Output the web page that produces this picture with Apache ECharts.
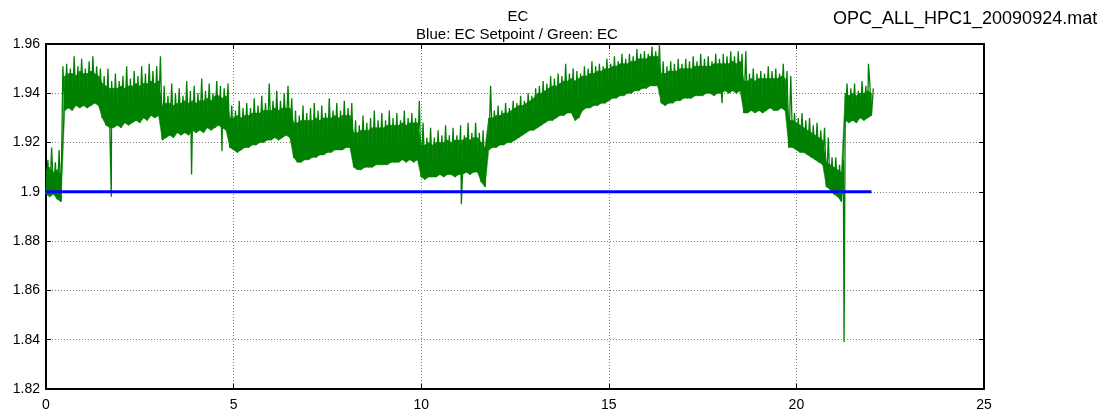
<!DOCTYPE html>
<html>
<head>
<meta charset="utf-8">
<title>EC</title>
<script src="https://cdn.jsdelivr.net/npm/echarts@6/dist/echarts.min.js"></script>
<style>
  html, body { margin: 0; padding: 0; background: #fff; }
  #chart { width: 1112px; height: 420px; }
</style>
</head>
<body>
<div id="chart"></div>
<script>
// x ticks / y ticks
var xTicks = [0, 5, 10, 15, 20, 25];
var yTicks = [1.82, 1.84, 1.86, 1.88, 1.9, 1.92, 1.94, 1.96];

// setpoint (blue)
var setpointTimes = [0, 22];
var setpointValues = [1.9, 1.9];

// measured EC (green), read every 0.1 from t=0 to t=22
var sampleStep = 0.1;
// lower edge of the noise band
var ecLow = [
  1.899, 1.898, 1.899, 1.897, 1.896, 1.933, 1.934, 1.933, 1.935, 1.934,
  1.935, 1.934, 1.935, 1.936, 1.935, 1.930, 1.927, 1.926, 1.926, 1.927,
  1.926, 1.928, 1.927, 1.928, 1.929, 1.928, 1.930, 1.929, 1.931, 1.930,
  1.931, 1.921, 1.922, 1.923, 1.922, 1.924, 1.923, 1.924, 1.923, 1.925,
  1.924, 1.925, 1.924, 1.926, 1.925, 1.926, 1.927, 1.926, 1.925, 1.918,
  1.917, 1.916, 1.917, 1.918, 1.918, 1.919, 1.919, 1.920, 1.920, 1.921,
  1.921, 1.922, 1.921, 1.922, 1.923, 1.922, 1.914, 1.912, 1.912, 1.913,
  1.913, 1.914, 1.914, 1.915, 1.915, 1.916, 1.916, 1.917, 1.917, 1.917,
  1.918, 1.918, 1.910, 1.909, 1.909, 1.910, 1.910, 1.910, 1.911, 1.911,
  1.911, 1.911, 1.912, 1.912, 1.912, 1.913, 1.912, 1.913, 1.912, 1.913,
  1.906, 1.905, 1.906, 1.906, 1.906, 1.907, 1.906, 1.907, 1.907, 1.906,
  1.907, 1.907, 1.908, 1.907, 1.908, 1.908, 1.904, 1.902, 1.917, 1.918,
  1.918, 1.919, 1.919, 1.920, 1.920, 1.921, 1.922, 1.923, 1.924, 1.925,
  1.925, 1.926, 1.927, 1.928, 1.929, 1.929, 1.930, 1.931, 1.931, 1.932,
  1.932, 1.929, 1.930, 1.933, 1.934, 1.934, 1.935, 1.935, 1.936, 1.936,
  1.937, 1.938, 1.938, 1.939, 1.939, 1.940, 1.940, 1.941, 1.941, 1.942,
  1.942, 1.943, 1.943, 1.943, 1.936, 1.935, 1.936, 1.936, 1.937, 1.937,
  1.938, 1.938, 1.938, 1.939, 1.939, 1.939, 1.940, 1.940, 1.939, 1.940,
  1.940, 1.941, 1.940, 1.941, 1.940, 1.941, 1.932, 1.932, 1.933, 1.932,
  1.933, 1.932, 1.933, 1.934, 1.933, 1.933, 1.934, 1.933, 1.918, 1.918,
  1.917, 1.916, 1.916, 1.915, 1.914, 1.913, 1.912, 1.911, 1.902, 1.901,
  1.899, 1.898, 1.896, 1.929, 1.928, 1.929, 1.928, 1.930, 1.929, 1.930,
  1.931
];
// top of the dense core of the band
var ecCore = [
  1.909, 1.910, 1.908, 1.909, 1.907, 1.947, 1.948, 1.948, 1.947, 1.949,
  1.948, 1.948, 1.949, 1.948, 1.947, 1.944, 1.943, 1.942, 1.942, 1.942,
  1.943, 1.942, 1.943, 1.943, 1.944, 1.943, 1.944, 1.944, 1.945, 1.944,
  1.945, 1.935, 1.936, 1.936, 1.935, 1.936, 1.936, 1.937, 1.936, 1.937,
  1.936, 1.937, 1.937, 1.938, 1.937, 1.939, 1.939, 1.938, 1.939, 1.930,
  1.930, 1.931, 1.930, 1.931, 1.931, 1.932, 1.932, 1.932, 1.933, 1.933,
  1.933, 1.934, 1.933, 1.934, 1.934, 1.934, 1.928, 1.928, 1.929, 1.929,
  1.929, 1.929, 1.930, 1.929, 1.930, 1.930, 1.930, 1.931, 1.930, 1.931,
  1.931, 1.931, 1.924, 1.924, 1.925, 1.925, 1.925, 1.926, 1.926, 1.926,
  1.926, 1.927, 1.927, 1.927, 1.927, 1.928, 1.927, 1.928, 1.928, 1.928,
  1.919, 1.919, 1.920, 1.919, 1.920, 1.920, 1.920, 1.921, 1.920, 1.921,
  1.921, 1.921, 1.922, 1.921, 1.922, 1.922, 1.920, 1.918, 1.930, 1.930,
  1.931, 1.931, 1.932, 1.932, 1.933, 1.934, 1.935, 1.935, 1.936, 1.937,
  1.938, 1.940, 1.940, 1.941, 1.942, 1.943, 1.943, 1.944, 1.945, 1.945,
  1.946, 1.945, 1.946, 1.947, 1.947, 1.948, 1.948, 1.949, 1.949, 1.950,
  1.950, 1.951, 1.951, 1.952, 1.952, 1.952, 1.953, 1.953, 1.954, 1.954,
  1.954, 1.955, 1.955, 1.955, 1.948, 1.948, 1.949, 1.949, 1.949, 1.950,
  1.950, 1.950, 1.950, 1.951, 1.951, 1.951, 1.951, 1.951, 1.952, 1.952,
  1.952, 1.952, 1.952, 1.953, 1.952, 1.953, 1.945, 1.945, 1.946, 1.945,
  1.946, 1.946, 1.946, 1.946, 1.946, 1.946, 1.947, 1.946, 1.929, 1.929,
  1.928, 1.927, 1.926, 1.925, 1.924, 1.923, 1.922, 1.921, 1.912, 1.911,
  1.910, 1.909, 1.908, 1.940, 1.939, 1.940, 1.939, 1.940, 1.940, 1.941,
  1.940
];
// noise peaks above the core
var ecHigh = [
  1.913, 1.918, 1.912, 1.917, 1.951, 1.952, 1.950, 1.955, 1.951, 1.954,
  1.950, 1.953, 1.955, 1.951, 1.950, 1.947, 1.950, 1.945, 1.948, 1.945,
  1.947, 1.951, 1.946, 1.949, 1.947, 1.951, 1.948, 1.952, 1.949, 1.951,
  1.955, 1.943, 1.939, 1.944, 1.940, 1.942, 1.939, 1.945, 1.941, 1.943,
  1.940, 1.946, 1.941, 1.944, 1.940, 1.945, 1.943, 1.942, 1.944, 1.935,
  1.933, 1.937, 1.934, 1.936, 1.934, 1.938, 1.935, 1.939, 1.936, 1.944,
  1.937, 1.941, 1.937, 1.940, 1.943, 1.938, 1.933, 1.931, 1.935, 1.932,
  1.934, 1.936, 1.933, 1.935, 1.932, 1.938, 1.933, 1.936, 1.933, 1.937,
  1.934, 1.936, 1.929, 1.927, 1.931, 1.928, 1.930, 1.933, 1.929, 1.932,
  1.929, 1.933, 1.930, 1.932, 1.929, 1.933, 1.930, 1.932, 1.930, 1.937,
  1.928, 1.922, 1.926, 1.922, 1.925, 1.923, 1.927, 1.923, 1.926, 1.923,
  1.927, 1.923, 1.928, 1.924, 1.928, 1.924, 1.925, 1.921, 1.943, 1.933,
  1.935, 1.933, 1.936, 1.934, 1.937, 1.936, 1.939, 1.937, 1.940, 1.939,
  1.942, 1.943, 1.945, 1.944, 1.947, 1.946, 1.948, 1.947, 1.952, 1.948,
  1.950, 1.949, 1.948, 1.951, 1.950, 1.953, 1.951, 1.952, 1.951, 1.954,
  1.952, 1.955, 1.953, 1.956, 1.954, 1.956, 1.955, 1.958, 1.956, 1.957,
  1.956, 1.959, 1.957, 1.960, 1.953, 1.951, 1.953, 1.952, 1.954, 1.952,
  1.954, 1.953, 1.955, 1.953, 1.956, 1.954, 1.955, 1.953, 1.956, 1.954,
  1.956, 1.955, 1.957, 1.955, 1.957, 1.956, 1.957, 1.948, 1.950, 1.948,
  1.949, 1.948, 1.951, 1.949, 1.950, 1.948, 1.952, 1.949, 1.947, 1.932,
  1.930, 1.932, 1.929, 1.930, 1.927, 1.928, 1.925, 1.926, 1.922, 1.914,
  1.914, 1.911, 1.913, 1.944, 1.942, 1.944, 1.941, 1.945, 1.943, 1.946,
  1.942
];
// isolated spikes
var spikeTimes = [1.74, 3.88, 4.69, 11.07, 18.02, 21.27, 21.92];
var spikeValues = [1.898, 1.907, 1.9165, 1.895, 1.936, 1.839, 1.952];

var chart = echarts.init(document.getElementById('chart'));

// zigzag trace low -> peak, plus the spikes
var ecPoints = [];
var bandData = [];
for (var i = 0; i < ecLow.length; i++) {
  var t = +(i * sampleStep).toFixed(2);
  ecPoints.push([t, ecLow[i]]);
  ecPoints.push([+(t + sampleStep / 2).toFixed(3), ecHigh[i]]);
  bandData.push([t, ecLow[i], ecCore[i]]);
}
for (var j = 0; j < spikeTimes.length; j++) {
  ecPoints.push([spikeTimes[j], spikeValues[j]]);
}
ecPoints.sort(function (a, b) { return a[0] - b[0]; });

var setpointPoints = [];
for (var s = 0; s < setpointTimes.length; s++) {
  setpointPoints.push([setpointTimes[s], setpointValues[s]]);
}

var green = '#008000';

// dense core of the band: one quad from each sample to the next
function renderBand(params, api) {
  var idx = params.dataIndex;
  if (idx >= bandData.length - 1) return null;
  var a = bandData[idx];
  var b = bandData[idx + 1];
  var pts = [
    api.coord([a[0], a[1]]),
    api.coord([b[0], b[1]]),
    api.coord([b[0], b[2]]),
    api.coord([a[0], a[2]])
  ];
  return {
    type: 'polygon',
    shape: { points: pts },
    style: { fill: green, stroke: green, lineWidth: 0.5 }
  };
}

var font = 'Liberation Sans, Arial, sans-serif';
var gridLine = { show: true, lineStyle: { color: '#808080', type: [1, 2], width: 1 } };
var boxLine = { show: true, onZero: false, lineStyle: { color: '#000', width: 2 } };
var tickIn = { show: true, inside: true, length: 5, lineStyle: { color: '#000', width: 1 } };

var option = {
  animation: false,
  backgroundColor: '#fff',
  title: [
    { text: 'EC', left: 513, top: 4, textAlign: 'center',
      textStyle: { fontFamily: font, fontSize: 15, fontWeight: 'normal', color: '#000' } },
    { text: 'Blue: EC Setpoint / Green: EC', left: 512, top: 22, textAlign: 'center',
      textStyle: { fontFamily: font, fontSize: 15, fontWeight: 'normal', color: '#000' } },
    { text: 'OPC_ALL_HPC1_20090924.mat', left: 828, top: 5,
      textStyle: { fontFamily: font, fontSize: 18, fontWeight: 'normal', color: '#000' } }
  ],
  grid: { left: 46, right: 128, top: 44, bottom: 31, containLabel: false },
  xAxis: [
    {
      type: 'value', min: xTicks[0], max: xTicks[xTicks.length - 1], interval: 5,
      axisLine: boxLine, axisTick: tickIn, splitLine: gridLine,
      axisLabel: { margin: 9, fontFamily: font, fontSize: 14, color: '#000' }
    },
    {
      type: 'value', position: 'top', min: xTicks[0], max: xTicks[xTicks.length - 1], interval: 5,
      axisLine: boxLine, axisTick: tickIn, splitLine: { show: false }, axisLabel: { show: false }
    }
  ],
  yAxis: [
    {
      type: 'value', min: yTicks[0], max: yTicks[yTicks.length - 1], interval: 0.02,
      axisLine: boxLine, axisTick: tickIn, splitLine: gridLine,
      axisLabel: {
        margin: 6, fontFamily: font, fontSize: 14, color: '#000',
        formatter: function (v) { return String(+v.toFixed(2)); }
      }
    },
    {
      type: 'value', position: 'right', min: yTicks[0], max: yTicks[yTicks.length - 1], interval: 0.02,
      axisLine: boxLine, axisTick: tickIn, splitLine: { show: false }, axisLabel: { show: false }
    }
  ],
  series: [
    {
      name: 'band', type: 'custom', data: bandData, renderItem: renderBand,
      encode: { x: 0, y: [1, 2] }, silent: true, clip: true
    },
    {
      name: 'EC', type: 'line', data: ecPoints, showSymbol: false, sampling: null,
      lineStyle: { color: green, width: 1.3 }
    },
    {
      name: 'EC Setpoint', type: 'line', data: setpointPoints, showSymbol: false,
      lineStyle: { color: '#0000ff', width: 3 }
    }
  ]
};
chart.setOption(option);
</script>
</body>
</html>
